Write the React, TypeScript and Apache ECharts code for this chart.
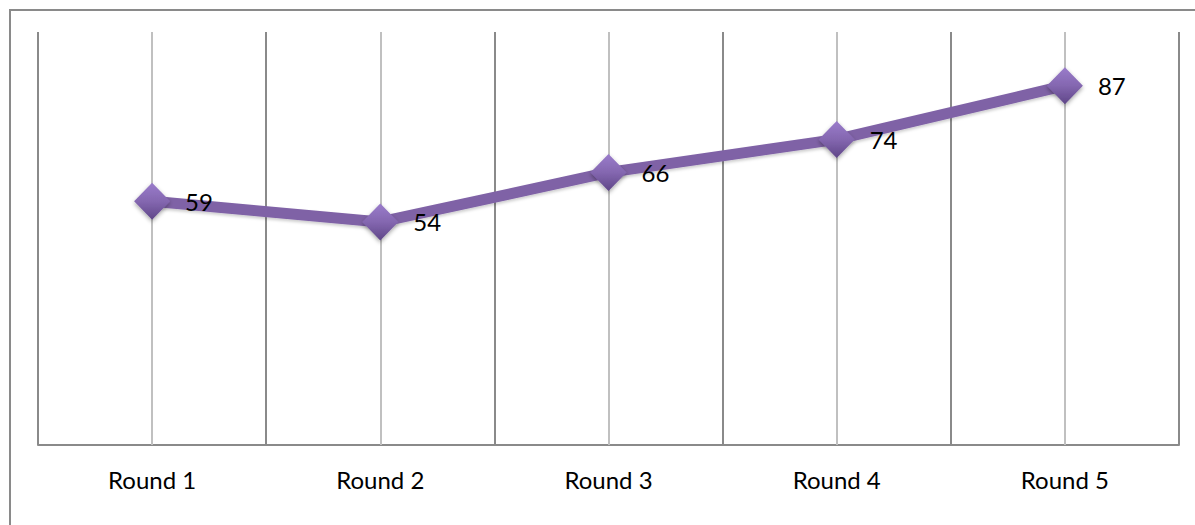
import React, { useEffect, useRef } from "react";
import * as echarts from "echarts";

const categories = ["Round 1", "Round 2", "Round 3", "Round 4", "Round 5"];
const scores = [59, 54, 66, 74, 87];
const yMin = 0;
const yMax = 100;

export default function App() {
  const ref = useRef<HTMLDivElement>(null);
  useEffect(() => {
    const chart = echarts.init(ref.current!, undefined, { renderer: "svg" });
    const font = "Lato, 'Open Sans', sans-serif";
    chart.setOption({
      animation: false,
      backgroundColor: "#ffffff",
      grid: { left: 38, right: 16, top: 32, bottom: 80 },
      graphic: [
        {
          type: "rect",
          shape: { x: 10, y: 10, width: 1300, height: 700 },
          style: { fill: "none", stroke: "#8a8a8a", lineWidth: 2 },
          silent: true,
          z: -10,
        },
      ],
      xAxis: {
        type: "category",
        data: categories,
        boundaryGap: true,
        axisLine: { show: true, lineStyle: { color: "#8a8a8a", width: 2 } },
        axisTick: { show: false },
        axisLabel: { color: "#000", fontSize: 24, fontFamily: font, margin: 22 },
        splitLine: { show: true, lineStyle: { color: "#8a8a8a", width: 2 } },
      },
      yAxis: {
        type: "value",
        min: yMin,
        max: yMax,
        show: false,
        splitLine: { show: false },
      },
      series: [
        {
          type: "line",
          data: [],
          silent: true,
          z: 1,
          markLine: {
            silent: true,
            symbol: "none",
            label: { show: false },
            lineStyle: { color: "#c0c0c0", width: 2, type: "solid" },
            data: categories.map((c) => ({ xAxis: c })),
          },
        },
        {
          type: "line",
          data: scores,
          z: 5,
          lineStyle: {
            color: "#7f62a6",
            width: 11,
            shadowColor: "rgba(0,0,0,0.2)",
            shadowBlur: 3,
            shadowOffsetY: 2,
          },
          symbol: "diamond",
          symbolSize: [36, 37],
          itemStyle: {
            color: new echarts.graphic.LinearGradient(0, 0, 0, 1, [
              { offset: 0, color: "#9a7ccb" },
              { offset: 0.5, color: "#8467b0" },
              { offset: 1, color: "#5f4688" },
            ]),
            shadowColor: "rgba(0,0,0,0.35)",
            shadowBlur: 4,
            shadowOffsetY: 2,
          },
          label: {
            show: true,
            position: "right",
            distance: 15,
            color: "#000",
            fontSize: 24,
            fontFamily: font,
          },
        },
      ],
    });
    return () => chart.dispose();
  }, []);
  return (
    <div
      ref={ref}
      style={{ position: "fixed", left: 0, top: 0, width: 1195, height: 525 }}
    />
  );
}
